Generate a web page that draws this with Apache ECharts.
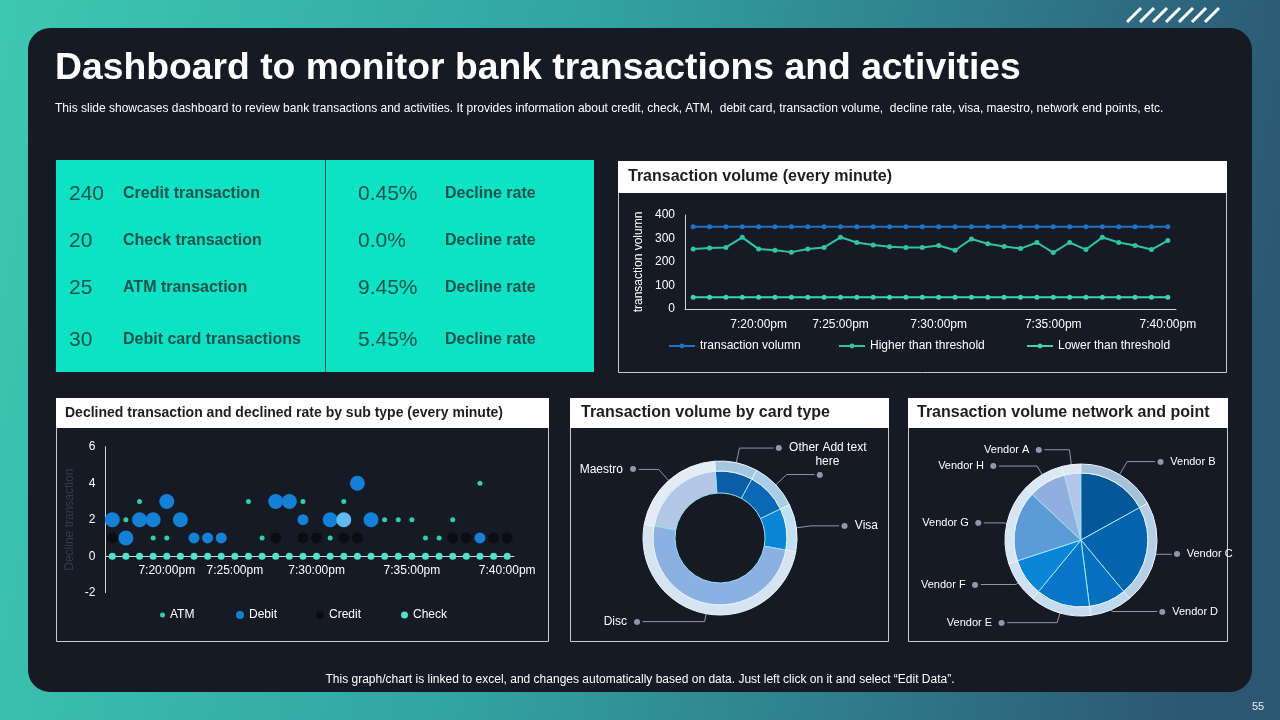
<!DOCTYPE html>
<html>
<head>
<meta charset="utf-8">
<script src="https://cdn.jsdelivr.net/npm/echarts@6/dist/echarts.min.js"></script>
<style>
html,body{margin:0;padding:0;background:#161a25;overflow:hidden;}
#c{width:1280px;height:720px;}
</style>
</head>
<body>
<div id="c"></div>
<script>
// ---------------- DATA ----------------
const timeLabels = ['', '', '', '', '7:20:00pm', '', '', '', '', '7:25:00pm', '', '', '', '', '', '7:30:00pm', '', '', '', '', '', '', '7:35:00pm', '', '', '', '', '', '', '7:40:00pm'];
const volumeValues = [350, 350, 350, 350, 350, 350, 350, 350, 350, 350, 350, 350, 350, 350, 350, 350, 350, 350, 350, 350, 350, 350, 350, 350, 350, 350, 350, 350, 350, 350];
const higherValues = [255, 260, 262, 305, 255, 250, 242, 255, 262, 305, 283, 272, 265, 262, 262, 270, 250, 298, 278, 266, 257, 283, 240, 283, 253, 305, 283, 270, 253, 291];
const lowerValues = [50, 50, 50, 50, 50, 50, 50, 50, 50, 50, 50, 50, 50, 50, 50, 50, 50, 50, 50, 50, 50, 50, 50, 50, 50, 50, 50, 50, 50, 50];

const atmValues = [null, 2, 3, 1, 1, null, null, null, null, null, 3, 1, null, null, 3, null, 1, 3, null, null, 2, 2, 2, 1, 1, 2, null, 4, null, null];
const debitValues = [2, 1, 2, 2, 3, 2, 1, 1, 1, null, null, null, 3, 3, 2, null, 2, 2, 4, 2, null, null, null, null, null, null, null, 1, null, null];
const debitWeights = [3, 3, 3, 3, 3, 3, 2, 2, 2, null, null, null, 3, 3, 2, null, 3, 3, 3, 3, null, null, null, null, null, null, null, 2, null, null];
const creditValues = [1, null, null, null, null, null, null, null, null, null, null, null, 1, null, 1, 1, null, 1, 1, null, null, null, null, null, null, 1, 1, null, 1, 1];
const checkValues = [0, 0, 0, 0, 0, 0, 0, 0, 0, 0, 0, 0, 0, 0, 0, 0, 0, 0, 0, 0, 0, 0, 0, 0, 0, 0, 0, 0, 0, 0];

const cardNames = ['Other', 'Add text here', 'Visa', 'Disc', 'Maestro'];
const cardValues = [9, 10, 10, 50, 21];

const vendorNames = ['Vendor A', 'Vendor B', 'Vendor C', 'Vendor D', 'Vendor E', 'Vendor F', 'Vendor G', 'Vendor H'];
const vendorValues = [4, 17, 22, 9, 13, 9, 17, 9];

const kpiCounts = ['240', '20', '25', '30'];
const kpiNames = ['Credit transaction', 'Check transaction', 'ATM transaction', 'Debit card transactions'];
const kpiRates = ['0.45%', '0.0%', '9.45%', '5.45%'];
const kpiRateLabel = 'Decline rate';

// ---------------- STYLES ----------------
const FONT = '"Liberation Sans", Arial, sans-serif';
const cardInnerColors = ['#0b5da6', '#0b68b6', '#0a86d6', '#8db0e2', '#b3c7e6'];
const cardOuterColors = ['#a5c6de', '#a9cde6', '#bfe1f2', '#d5e3f3', '#e3ebf6'];
const cardLineLen = [[15, 34], [15, 28], [15, 28], [8, 62], [15, 20]];
const vendorInnerColors = ['#b3c5e8', '#04589a', '#0564ae', '#066fbf', '#0876c8', '#0a85d8', '#5d9ad8', '#90aede'];
const vendorOuterColors = ['#dce6f4', '#a6c1da', '#b6cfe6', '#c0d8ed', '#c6dbef', '#cfe1f2', '#d6e5f4', '#dde8f5'];
const vendorLineLen = [[15, 25], [15, 28], [1, 15], [2, 45], [10, 50], [3, 35], [3, 20], [10, 38]];

function sideOf(values, idx, startAngle) {
  let total = 0, before = 0;
  values.forEach((v, i) => { total += v; if (i < idx) before += v; });
  const mid = (before + values[idx] / 2) / total * 360;
  const a = (startAngle - mid) * Math.PI / 180;
  return Math.cos(a) >= 0 ? 'right' : 'left';
}

// ---------------- GRAPHICS (frame / decoration / text) ----------------
const G = [];
function rect(x, y, w, h, style, r) { G.push({ type: 'rect', silent: true, shape: { x: x, y: y, width: w, height: h, r: r || 0 }, style: style }); }
function txt(x, y, s, font, fill, align) {
  G.push({ type: 'text', silent: true, style: { text: s, x: x, y: y, font: font, fill: fill, textAlign: align || 'left', align: align || 'left', textVerticalAlign: 'middle', verticalAlign: 'middle' } });
}
function line(x1, y1, x2, y2, stroke, w) { G.push({ type: 'line', silent: true, shape: { x1: x1, y1: y1, x2: x2, y2: y2 }, style: { stroke: stroke, lineWidth: w } }); }

rect(0, 0, 1280, 720, { fill: { type: 'linear', x: 0, y: 0, x2: 1, y2: 0.35, colorStops: [
  { offset: 0, color: '#3dc8b2' }, { offset: 0.45, color: '#32a3a1' }, { offset: 0.75, color: '#2f7b8b' }, { offset: 1, color: '#2c5772' }] } });
for (let k = 0; k < 7; k++) line(1127 + 13 * k, 22, 1141 + 13 * k, 8, '#ffffff', 3);
rect(28, 28, 1224, 664, { fill: '#161a25' }, 22);

txt(55, 69, 'Dashboard to monitor bank transactions and activities', 'bold 37.3px ' + FONT, '#ffffff');
txt(55, 109, 'This slide showcases dashboard to review bank transactions and activities. It provides information about credit, check, ATM,  debit card, transaction volume,  decline rate, visa, maestro, network end points, etc.', '12px ' + FONT, '#ffffff');

// KPI panel
rect(56, 160, 538, 212, { fill: '#0de2c5' });
line(325.5, 160, 325.5, 372, '#1d4f4a', 1);
const kpiY = [194, 241, 288, 340];
for (let i = 0; i < 4; i++) {
  txt(69, kpiY[i], kpiCounts[i], '21px ' + FONT, '#1f524b');
  txt(123, kpiY[i], kpiNames[i], 'bold 16px ' + FONT, '#1f524b');
  txt(358, kpiY[i], kpiRates[i], '21px ' + FONT, '#1f524b');
  txt(445, kpiY[i], kpiRateLabel, 'bold 16px ' + FONT, '#1f524b');
}

// boxes
function box(x, y, w, h, hh, title, fs, tx) {
  rect(x + 0.5, y + 0.5, w, h, { fill: 'none', stroke: '#c6cad0', lineWidth: 1 });
  rect(x, y, w + 1, hh, { fill: '#ffffff' });
  txt(tx, y + hh / 2, title, 'bold ' + fs + 'px ' + FONT, '#1e1e1e');
}
box(618, 161, 608, 211, 32, 'Transaction volume (every minute)', 16, 628);
box(56, 398, 492, 243, 30, 'Declined transaction and declined rate by sub type (every minute)', 14, 65);
box(570, 398, 318, 243, 30, 'Transaction volume by card type', 16, 581);
box(908, 398, 319, 243, 30, 'Transaction volume network and point', 16, 917);

txt(640, 680, 'This graph/chart is linked to excel, and changes automatically based on data. Just left click on it and select \u201cEdit Data\u201d.', '12px ' + FONT, '#ffffff', 'center');
txt(1258, 707, '55', '11px ' + FONT, '#e6eef2', 'center');

// ---------------- CHART OPTION ----------------
const axisTxt = { color: '#ffffff', fontSize: 12, fontFamily: FONT };
const axisLineStyle = { show: true, lineStyle: { color: '#d2d5da', width: 1 } };
const legTxt = { color: '#ffffff', fontSize: 12, fontFamily: FONT };

function pieLabelFormatter(values, startAngle, special) {
  return function (p) {
    if (special) { const s = special(p.dataIndex); if (s !== undefined) return s; }
    const side = sideOf(values, p.dataIndex, startAngle);
    return side === 'right' ? '{dot|\u25CF}  {t|' + p.name + '}' : '{t|' + p.name + '}  {dot|\u25CF}';
  };
}

const cardStart = 94;
const vendorStart = 104.5;
// scatter grid geometry: y from -2 to 6 over 146px -> zero line sits 2/8 of the height above the bottom
const scatterGridH = 146;
const scatterZeroOffset = -scatterGridH * 2 / 8;

const option = {
  animation: false,
  backgroundColor: 'transparent',
  textStyle: { fontFamily: FONT },
  graphic: { elements: G },
  grid: [
    { left: 685, top: 215, width: 491, height: 94 },
    { left: 105.5, top: 446.7, width: 408.5, height: scatterGridH }
  ],
  xAxis: [
    { type: 'category', gridIndex: 0, data: timeLabels, boundaryGap: true, axisLine: axisLineStyle, axisTick: { show: false },
      axisLabel: Object.assign({ interval: 0, margin: 10 }, axisTxt) },
    { type: 'category', gridIndex: 1, data: timeLabels, boundaryGap: true, position: 'bottom', offset: scatterZeroOffset,
      axisLine: Object.assign({ onZero: false }, axisLineStyle), axisTick: { show: false },
      axisLabel: Object.assign({ interval: 0, margin: 8 }, axisTxt) }
  ],
  yAxis: [
    { type: 'value', gridIndex: 0, min: 0, max: 400, interval: 100, name: 'transaction volumn', nameLocation: 'middle', nameGap: 40,
      nameTextStyle: { color: '#ffffff', fontSize: 12, fontFamily: FONT }, axisLine: axisLineStyle, axisTick: { show: false },
      splitLine: { show: false }, axisLabel: Object.assign({ margin: 10 }, axisTxt) },
    { type: 'value', gridIndex: 1, min: -2, max: 6, interval: 2, name: 'Decline transaction', nameLocation: 'middle', nameGap: 30,
      nameTextStyle: { color: '#353b48', fontSize: 12, fontFamily: FONT }, axisLine: axisLineStyle, axisTick: { show: false },
      splitLine: { show: false }, axisLabel: Object.assign({ margin: 10 }, axisTxt) }
  ],
  legend: [
    { data: ['transaction volumn'], left: 668, top: 340, padding: 0, itemWidth: 26, itemHeight: 6, selectedMode: false, textStyle: legTxt },
    { data: ['Higher than threshold'], left: 838, top: 340, padding: 0, itemWidth: 26, itemHeight: 6, selectedMode: false, textStyle: legTxt },
    { data: ['Lower than threshold'], left: 1026, top: 340, padding: 0, itemWidth: 26, itemHeight: 6, selectedMode: false, textStyle: legTxt },
    { data: ['ATM'], left: 160, top: 609, padding: 0, icon: 'circle', itemWidth: 5, itemHeight: 5, selectedMode: false, textStyle: legTxt },
    { data: ['Debit'], left: 236, top: 609, padding: 0, icon: 'circle', itemWidth: 8, itemHeight: 8, selectedMode: false, textStyle: legTxt },
    { data: ['Credit'], left: 316, top: 609, padding: 0, icon: 'circle', itemWidth: 8, itemHeight: 8, selectedMode: false, textStyle: legTxt },
    { data: ['Check'], left: 401, top: 609, padding: 0, icon: 'circle', itemWidth: 7, itemHeight: 7, selectedMode: false, textStyle: legTxt }
  ],
  series: [
    { name: 'transaction volumn', type: 'line', xAxisIndex: 0, yAxisIndex: 0, data: volumeValues, symbol: 'circle', symbolSize: 5,
      lineStyle: { width: 2, color: '#1f73c6' }, itemStyle: { color: '#1f73c6' } },
    { name: 'Higher than threshold', type: 'line', xAxisIndex: 0, yAxisIndex: 0, data: higherValues, symbol: 'circle', symbolSize: 5,
      lineStyle: { width: 2, color: '#2fc4a6' }, itemStyle: { color: '#2fc4a6' } },
    { name: 'Lower than threshold', type: 'line', xAxisIndex: 0, yAxisIndex: 0, data: lowerValues, symbol: 'circle', symbolSize: 5,
      lineStyle: { width: 2, color: '#3cd3ba' }, itemStyle: { color: '#3cd3ba' } },

    { name: 'ATM', type: 'scatter', xAxisIndex: 1, yAxisIndex: 1, data: atmValues, symbolSize: 5, itemStyle: { color: '#2ccfae', opacity: 1 } },
    { name: 'Debit', type: 'scatter', xAxisIndex: 1, yAxisIndex: 1,
      data: debitValues.map((v, i) => v == null ? null : (i === 17 ? { value: v, itemStyle: { color: '#62b9f2' } } : v)),
      symbolSize: (val, p) => debitWeights[p.dataIndex] * 4 + 3, itemStyle: { color: '#1481d6', opacity: 1 } },
    { name: 'Credit', type: 'scatter', xAxisIndex: 1, yAxisIndex: 1, data: creditValues, symbolSize: 11, itemStyle: { color: '#0b0d12', opacity: 1 } },
    { name: 'Check', type: 'scatter', xAxisIndex: 1, yAxisIndex: 1, data: checkValues, symbolSize: 7, itemStyle: { color: '#4fe2cc', opacity: 1 } },

    { name: 'cardInner', type: 'pie', center: [720, 538], radius: [45, 67], startAngle: cardStart, avoidLabelOverlap: false, silent: true,
      label: { show: false }, labelLine: { show: false },
      itemStyle: { borderColor: '#8fe6f7', borderWidth: 1 },
      data: cardNames.map((n, i) => ({ name: n, value: cardValues[i], itemStyle: { color: cardInnerColors[i] } })) },
    { name: 'cardOuter', type: 'pie', center: [720, 538], radius: [67, 77], startAngle: cardStart, avoidLabelOverlap: false, silent: true,
      itemStyle: { borderColor: '#eef5fb', borderWidth: 1 },
      label: { show: true, position: 'outside', distanceToLabelLine: 2, color: '#ffffff', fontSize: 12, fontFamily: FONT,
        formatter: pieLabelFormatter(cardValues, cardStart, function (i) {
          if (i === 0) return '{dot|\u25CF}  {t|Other Add text}\n{pad| }{t|here}';
          if (i === 1) return '{dot|\u25CF}';
          return undefined;
        }),
        rich: { dot: { fontSize: 8, color: '#8e98aa', fontFamily: 'DejaVu Sans' }, t: { fontSize: 12, color: '#ffffff', fontFamily: FONT, lineHeight: 14 }, pad: { width: 40, fontSize: 12 } } },
      labelLine: { show: true, length: 15, length2: 28, lineStyle: { color: '#8e98aa', width: 1 } },
      data: cardNames.map((n, i) => ({ name: n, value: cardValues[i], itemStyle: { color: cardOuterColors[i] },
        labelLine: { length: cardLineLen[i][0], length2: cardLineLen[i][1] },
        label: i === 0 ? { padding: [14, 0, 0, 0] } : {} })) },

    { name: 'vendorInner', type: 'pie', center: [1081, 540], radius: [0, 67], startAngle: vendorStart, avoidLabelOverlap: false, silent: true,
      label: { show: false }, labelLine: { show: false },
      itemStyle: { borderColor: '#9fe9f8', borderWidth: 1 },
      data: vendorNames.map((n, i) => ({ name: n, value: vendorValues[i], itemStyle: { color: vendorInnerColors[i] } })) },
    { name: 'vendorOuter', type: 'pie', center: [1081, 540], radius: [67, 76], startAngle: vendorStart, avoidLabelOverlap: false, silent: true,
      itemStyle: { borderColor: '#eef5fb', borderWidth: 1 },
      label: { show: true, position: 'outside', distanceToLabelLine: 2, color: '#ffffff', fontSize: 11, fontFamily: FONT,
        formatter: pieLabelFormatter(vendorValues, vendorStart, null),
        rich: { dot: { fontSize: 8, color: '#8e98aa', fontFamily: 'DejaVu Sans' }, t: { fontSize: 11, color: '#ffffff', fontFamily: FONT } } },
      labelLine: { show: true, length: 15, length2: 25, lineStyle: { color: '#8e98aa', width: 1 } },
      data: vendorNames.map((n, i) => ({ name: n, value: vendorValues[i], itemStyle: { color: vendorOuterColors[i] },
        labelLine: { length: vendorLineLen[i][0], length2: vendorLineLen[i][1] } })) }
  ]
};

const chart = echarts.init(document.getElementById('c'), null, { renderer: 'canvas', width: 1280, height: 720 });
chart.setOption(option);
</script>
</body>
</html>
